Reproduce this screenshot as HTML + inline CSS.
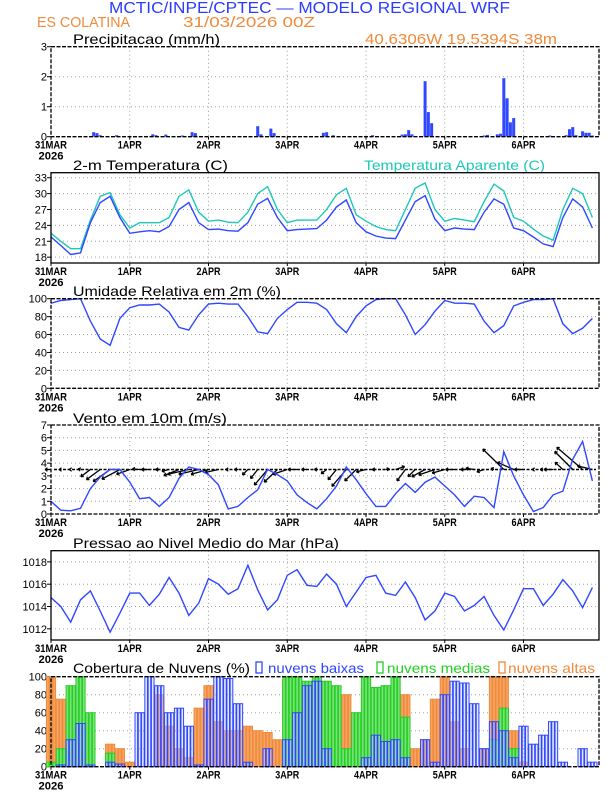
<!DOCTYPE html>
<html><head><meta charset="utf-8"><style>
html,body{margin:0;padding:0;background:#fff;}
svg{display:block;font-family:"Liberation Sans",sans-serif;}
</style></head><body>
<svg id="chart" width="612" height="792" viewBox="0 0 612 792" xmlns="http://www.w3.org/2000/svg">
<text x="109" y="13" font-size="16" fill="#2a3cff" textLength="401" lengthAdjust="spacingAndGlyphs">MCTIC/INPE/CPTEC — MODELO REGIONAL WRF</text>
<text x="37" y="27" font-size="15" fill="#f08a3c" textLength="93" lengthAdjust="spacingAndGlyphs">ES COLATINA</text>
<text x="183" y="27" font-size="15" fill="#f08a3c" textLength="132" lengthAdjust="spacingAndGlyphs">31/03/2026 00Z</text>
<text x="365" y="44" font-size="15" fill="#f08a3c" textLength="192" lengthAdjust="spacingAndGlyphs">40.6306W 19.5394S 38m</text>
<g id="layer"></g>
</svg>
<script>
// ---- data (3-hourly unless noted) ----
const stepHours = 3;
const dayLabels = ["31MAR","1APR","2APR","3APR","4APR","5APR","6APR"];
const precipHours = [13,14,15,20,31,32,35,40,43,44,63,64,67,68,83,84,86,98,107,108,109,110,114,115,116,132,133,136,137,138,139,140,141,152,157,158,159,160,162,163,164,165];
const precipValues = [0.15,0.12,0.05,0.05,0.08,0.05,0.07,0.04,0.15,0.12,0.35,0.08,0.27,0.12,0.13,0.15,0.05,0.05,0.07,0.08,0.22,0.08,1.85,0.82,0.45,0.04,0.06,0.08,0.1,1.95,1.28,0.48,0.62,0.04,0.05,0.25,0.32,0.05,0.18,0.13,0.13,0.04];
const temp2m = [21.8,20.2,18.5,18.8,24.5,28.3,29.5,25.5,22.5,22.8,23.0,22.8,23.8,27.0,28.3,24.5,23.2,23.3,23.0,22.9,24.5,28.0,29.1,25.5,23.0,23.2,23.3,23.4,25.0,27.5,28.8,24.5,22.8,22.0,21.6,21.5,25.0,28.5,29.6,25.2,23.0,23.5,23.3,23.2,26.5,29.0,28.0,23.5,23.0,21.8,20.5,20.0,25.5,29.0,27.5,23.5];
const tempApparent = [22.5,21.0,19.6,19.6,25.0,29.5,30.2,26.0,23.5,24.5,24.5,24.5,25.5,29.5,30.7,26.5,24.8,25.0,24.6,24.5,26.5,30.0,31.3,27.0,24.5,25.0,25.0,25.0,27.0,29.8,31.0,26.0,24.8,23.8,23.2,23.0,27.0,31.0,32.0,27.0,24.8,25.3,25.0,24.7,28.5,31.8,30.5,25.5,24.8,23.3,22.0,21.2,27.0,31.0,30.0,25.5];
const relHumidity = [95,98,99,100,75,55,48,78,90,93,93,94,85,68,65,82,94,95,94,94,80,63,61,78,88,96,96,95,88,72,62,80,92,99,100,100,82,60,71,86,98,95,95,94,75,62,70,92,96,99,99,100,72,61,67,78];
const windSpeed = [1.0,0.3,0.25,0.45,2.0,2.9,3.5,3.5,2.5,1.2,1.3,0.6,1.3,2.8,3.7,3.5,3.1,2.3,0.4,0.6,1.3,1.9,3.5,3.1,2.6,1.5,0.9,0.4,1.2,2.2,3.7,2.7,1.6,0.6,0.6,1.6,2.4,1.7,2.5,2.9,2.2,1.5,0.6,1.4,1.3,0.5,4.9,3.0,1.5,0.2,0.5,1.5,1.8,4.3,5.7,2.6];
const windU = [-1.0,-0.3,-0.25,-0.4,-1.6,-2.3,-2.8,-3.0,-2.2,-1.2,-1.3,-0.6,-1.2,-2.5,-3.5,-3.3,-2.9,-2.2,-0.4,-0.6,-0.9,-1.2,-2.2,-2.2,-2.4,-1.5,-0.9,-0.4,-0.9,-1.4,-2.4,-1.9,-1.6,-0.6,0.6,1.5,-1.4,-1.2,-2.2,-2.7,-2.1,-1.5,-0.6,-1.4,-1.2,-0.5,-3.5,-2.7,-1.5,-0.2,-0.5,-1.5,-1.3,-3.0,-4.3,-2.5];
const windV = [0,0,0,0.1,-1.2,-1.7,-2.0,-1.6,-0.8,0.1,0,0,-0.3,-1.0,-0.8,-0.8,-0.8,-0.5,0,0,-0.9,-1.5,-2.6,-2.1,-0.8,0,0,0,-0.7,-1.7,-2.8,-1.9,-0.4,0,0.1,0.5,-1.9,-1.2,-1.2,-0.9,-0.6,0,0,0.2,-0.4,0.2,3.4,1.2,0,0,0,0,1.2,3.0,3.7,0.6];
const slp = [1014.8,1014.0,1012.6,1014.6,1015.4,1013.6,1011.7,1013.4,1015.2,1015.2,1014.1,1015.1,1016.6,1015.2,1013.2,1014.3,1016.5,1016.0,1015.1,1015.6,1017.7,1015.5,1013.7,1014.6,1016.8,1017.3,1015.9,1015.8,1016.9,1016.0,1014.0,1015.3,1016.6,1016.8,1015.2,1015.0,1016.2,1014.8,1012.8,1013.6,1015.2,1014.9,1013.6,1014.1,1014.9,1013.2,1011.9,1013.7,1015.6,1015.6,1014.1,1015.1,1016.4,1015.4,1013.9,1015.7];
const cloudLow = [0,2,30,48,2,0,5,3,0,60,100,90,60,65,45,2,75,100,98,70,5,0,20,0,30,60,90,95,20,0,0,0,10,35,28,30,10,0,30,5,80,95,93,70,20,50,40,10,45,25,35,50,5,0,20,5];
const cloudMid = [5,20,90,100,60,0,15,0,0,0,0,0,0,0,0,0,0,0,0,0,0,0,0,0,100,100,95,100,95,90,20,60,100,88,90,100,55,0,0,0,0,0,0,0,0,30,65,20,0,0,0,0,0,0,0,0];
const cloudHigh = [100,75,30,20,5,0,25,20,5,0,0,80,45,20,10,65,90,50,40,40,45,40,38,30,95,95,80,75,40,20,80,40,95,25,10,85,80,20,30,75,100,50,20,0,20,100,100,40,5,0,0,0,0,0,0,0];

// ---- layout ----
const X0 = 51, X1 = 599, HMAX = 167;
function xs(h){ return X0 + h*(X1-X0)/HMAX; }
const NS = "http://www.w3.org/2000/svg";
const layer = document.getElementById('layer');
function el(tag, attrs, parent){
  const e = document.createElementNS(NS, tag);
  for (const k in attrs) e.setAttribute(k, attrs[k]);
  (parent||layer).appendChild(e);
  return e;
}
const BLUE = "#2f47ff", CYAN = "#1ec8b8", ORANGE = "#f08a3c", GREEN = "#22d022";

function panel(name, top, bot, ymin, ymax, ticks, title, titleW, titleY){
  const g = el('g', {});
  
  
  const ys = v => bot - (v - ymin) * (bot - top) / (ymax - ymin);
  for (let d = 1; d < dayLabels.length; d++){
    const gl = el('line', {x1: xs(d*24), x2: xs(d*24), y1: top, y2: bot, stroke: '#a0a0a0', 'stroke-width': 1, 'stroke-dasharray': '1,3'}, g);
    
    
  }
  ticks.forEach(t => {
    if (t > ymin && t < ymax){
      const gl = el('line', {x1: X0, x2: X1, y1: ys(t), y2: ys(t), stroke: '#a0a0a0', 'stroke-width': 1, 'stroke-dasharray': '1,3'}, g);
      
      
    }
    const tk = el('line', {x1: X0-4, x2: X0, y1: ys(t), y2: ys(t), stroke: '#000', 'stroke-width': 1}, g);
    
    
    const lb = el('text', {x: X0-4, y: ys(t)+4, 'font-size': 11, 'text-anchor': 'end', fill: '#000'}, g);
    
    
    lb.textContent = t;
  });
  dayLabels.forEach((d, i) => {
    const tk = el('line', {x1: xs(i*24), x2: xs(i*24), y1: bot, y2: bot+3, stroke: '#000'}, g);
    
    
    const lb = el('text', {x: xs(i*24), y: bot+12, 'font-size': 11, 'font-weight': 'bold', 'text-anchor': 'middle', fill: '#000', textLength: i === 0 ? 32 : 24, lengthAdjust: 'spacingAndGlyphs'}, g);
    
    
    lb.textContent = d;
  });
  const yr = el('text', {x: xs(0), y: bot+23, 'font-size': 11, 'font-weight': 'bold', 'text-anchor': 'middle', fill: '#000', textLength: 25, lengthAdjust: 'spacingAndGlyphs'}, g);
  
  
  yr.textContent = '2026';
  const tt = el('text', {x: 73, y: titleY, 'font-size': 14, fill: '#000', textLength: titleW, lengthAdjust: 'spacingAndGlyphs'}, g);
  
  
  tt.textContent = title;
  return {g, ys, top, bot};
}
function frame(p, dashed){
  const f = el('rect', {x: X0, y: p.top, width: X1-X0, height: p.bot-p.top, fill: 'none', stroke: '#000', 'stroke-width': 1.3, 'stroke-dasharray': dashed ? '4,1.5' : 'none'}, p.g);
  
  
}
function line(p, vals, color, name){
  const pts = vals.map((v, i) => xs(i*stepHours).toFixed(1) + ',' + p.ys(v).toFixed(1)).join(' ');
  const pl = el('polyline', {points: pts, fill: 'none', stroke: color, 'stroke-width': 1.4}, p.g);
  
  
}

// precipitation
const pP = panel('precipitation', 46.7, 136.7, 0, 3, [0,1,2,3], 'Precipitacao (mm/h)', 147, 44);
precipHours.forEach((h, i) => {
  const y = pP.ys(precipValues[i]);
  const b = el('rect', {x: xs(h)-1.5, y: y, width: 3, height: pP.bot - y, fill: BLUE}, pP.g);
  
  
});
frame(pP, true);

// temperature
const pT = panel('temperature', 172.7, 263, 16.9, 33.95, [18,21,24,27,30,33], '2-m Temperatura (C)', 155, 170);
const ta = el('text', {x: 364, y: 170, 'font-size': 14, fill: CYAN, textLength: 181, lengthAdjust: 'spacingAndGlyphs'}, pT.g);


ta.textContent = 'Temperatura Aparente (C)';
line(pT, tempApparent, CYAN, 'apparent-temperature-line');
line(pT, temp2m, BLUE, 'temperature-line');
frame(pT, false);

// RH
const pR = panel('humidity', 298.7, 388.3, 0, 100, [0,20,40,60,80,100], 'Umidade Relativa em 2m (%)', 208, 296);
line(pR, relHumidity, BLUE, 'humidity-line');
frame(pR, true);

// wind
const pW = panel('wind', 425, 514, 0, 7, [0,1,2,3,4,5,6,7], 'Vento em 10m (m/s)', 154, 423);
const base = el('line', {x1: X0+3, x2: X1-3, y1: pW.ys(3.5), y2: pW.ys(3.5), stroke: '#000', 'stroke-width': 1.6, 'stroke-dasharray': '3,1.5'}, pW.g);


const ARW = 6;
windU.forEach((u, i) => {
  const x = xs(i*stepHours), y = pW.ys(3.5);
  const x2 = x + u*ARW, y2 = y - windV[i]*ARW;
  const g = el('g', {}, pW.g);
  
  
  el('line', {x1: x, y1: y, x2: x2, y2: y2, stroke: '#000', 'stroke-width': 1.3}, g);
  const ang = Math.atan2(y2-y, x2-x), hl = 3;
  [0.6, -0.6].forEach(da => {
    el('line', {x1: x2, y1: y2, x2: x2 - hl*Math.cos(ang+da), y2: y2 - hl*Math.sin(ang+da), stroke: '#000', 'stroke-width': 1.2}, g);
  });
});
line(pW, windSpeed, BLUE, 'wind-speed-line');
frame(pW, true);

// pressure
const pS = panel('pressure', 550.7, 640, 1011, 1019, [1012,1014,1016,1018], 'Pressao ao Nivel Medio do Mar (hPa)', 266, 548);
line(pS, slp, BLUE, 'pressure-line');
frame(pS, false);

// clouds
const pC = panel('clouds', 676.7, 766.7, 0, 100, [0,20,40,60,80,100], 'Cobertura de Nuvens (%)', 177, 673);
function bars(vals, fill, stroke, name){
  const hw = (X1-X0)/HMAX;
  vals.forEach((v, i) => {
    if (v <= 0) return;
    const y = pC.ys(v);
    for (let k = -1; k <= 1; k++){
      const b = el('rect', {x: xs(i*stepHours + k) - hw*0.4, y: y, width: hw*0.8, height: pC.bot - y, fill: fill, stroke: stroke, 'stroke-width': 1}, pC.g);
      
      
    }
  });
}
bars(cloudHigh, '#f6a563', ORANGE, 'high-cloud-bar');
bars(cloudMid, '#7de07d', GREEN, 'mid-cloud-bar');
bars(cloudLow, 'rgba(190,200,255,0.4)', BLUE, 'low-cloud-bar');
frame(pC, true);
const legend = [[256, 268, 96, BLUE, 'nuvens baixas', 'legend-low-clouds'], [377, 387, 103, GREEN, 'nuvens medias', 'legend-mid-clouds'], [499, 508, 87, ORANGE, 'nuvens altas', 'legend-high-clouds']];
legend.forEach(l => {
  const g = el('g', {}, pC.g);
  
  
  el('rect', {x: l[0], y: 662, width: 6, height: 11, fill: 'none', stroke: l[3], 'stroke-width': 1.3}, g);
  const t = el('text', {x: l[1], y: 673, 'font-size': 14, fill: l[3], textLength: l[2], lengthAdjust: 'spacingAndGlyphs'}, g);
  t.textContent = l[4];
});
</script>
</body></html>
